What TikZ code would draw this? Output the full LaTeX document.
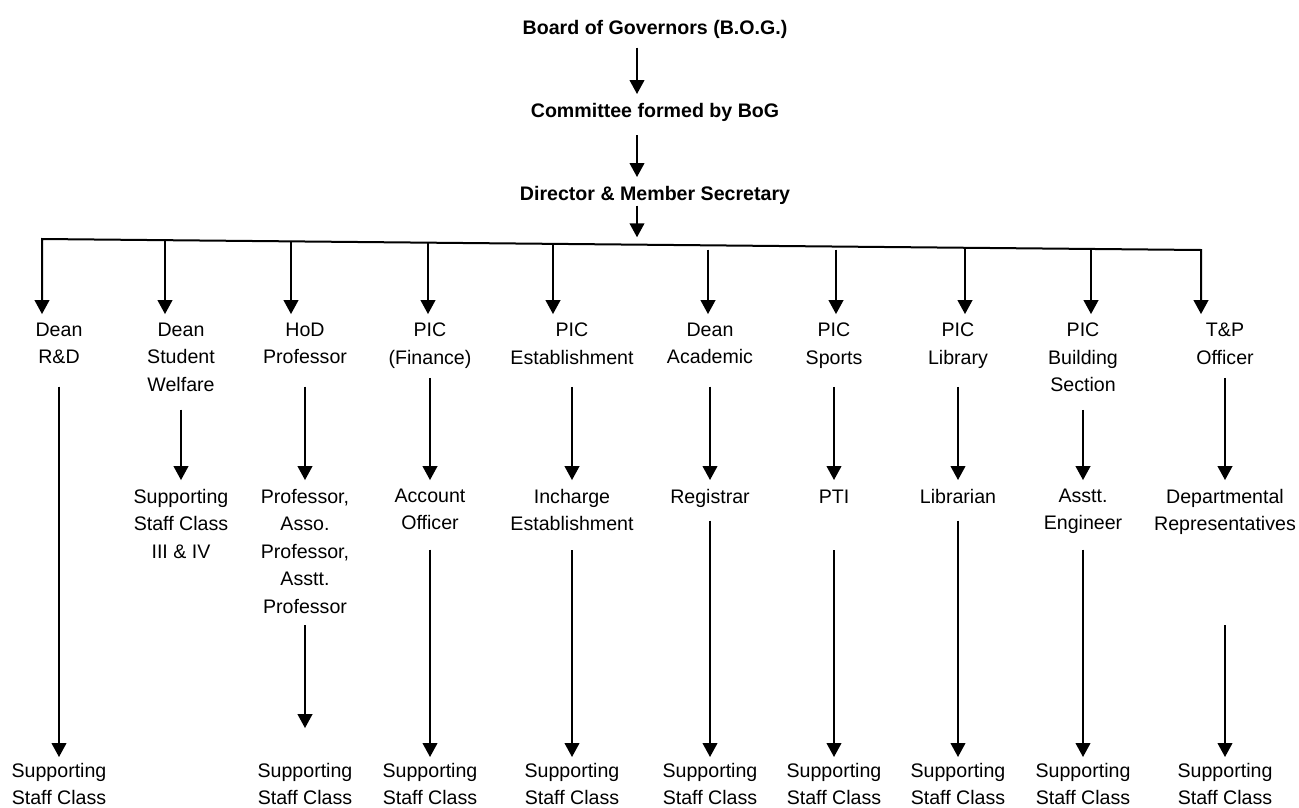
\documentclass[tikz,border=0pt]{standalone}
\usepackage{fontspec}
\setmainfont{Liberation Sans}
\usetikzlibrary{arrows.meta}

\begin{document}
\begin{tikzpicture}[x=0.75pt, y=-0.75pt,
        lbl/.style={align=center, inner sep=0pt, anchor=north,
            font=\fontsize{14.7}{20.6}\selectfont,
            execute at begin node=\strut, execute at end node=\strut},
        ttl/.style={lbl, font=\fontsize{14.7}{20.6}\selectfont\bfseries},
        arr/.style={line width=1.5pt, -{Triangle[length=10.5pt,width=11pt]}, shorten >=6.5pt},
        barr/.style={line width=1.5pt, line join=miter,
            {Triangle[length=10.5pt,width=11pt]}-{Triangle[length=10.5pt,width=11pt]},
            shorten <=6.5pt, shorten >=6.5pt}]
        \useasboundingbox (0, 0) rectangle (1299, 807);

        \begin{scope}
            % Top of the chart
            \node[ttl] (bog) at (655, 14.75) {Board of Governors (B.O.G.)};
            \node[ttl] (cmt) at (655, 97.75) {Committee formed by BoG};
            \node[ttl] (dir) at (655, 180.75) {Director \& Member Secretary};

            \coordinate (ax) at (637, 0);
            \coordinate (bm) at (637, 244.6);

            % Connect Nodes
            \draw[arr, shorten <=3.6pt, shorten >=2.8pt] (ax |- bog.south) -- (ax |- cmt.north);
            \draw[arr, shorten <=7.3pt, shorten >=2.8pt] (ax |- cmt.south) -- (ax |- dir.north);
            \draw[arr, shorten <=-2.4pt, shorten >=5.5pt] (ax |- dir.south) -- (bm);
        \end{scope}

        \begin{scope}
            % First level
            \node[lbl] (drd) at (59, 322.75) {Dean\\R\&D};
            \node[lbl] (dsw) at (181, 322.75) {Dean\\Student\\Welfare};
            \node[lbl] (hod) at (305, 322.75) {HoD\\Professor};
            \node[lbl] (pfin) at (430, 322.75) {PIC\\(Finance)};
            \node[lbl] (pest) at (572, 322.75) {PIC\\Establishment};
            \node[lbl] (dac) at (710, 322.75) {Dean\\Academic};
            \node[lbl] (pspt) at (834, 322.75) {PIC\\Sports};
            \node[lbl] (plib) at (958, 322.75) {PIC\\Library};
            \node[lbl] (pbld) at (1083, 322.75) {PIC\\Building\\Section};
            \node[lbl] (tpo) at (1225, 322.75) {T\&P\\Officer};

            % Bar under the Director
            \coordinate (b1) at (42, 239);
            \coordinate (b2) at (165, 240.2);
            \coordinate (b3) at (291, 241.4);
            \coordinate (b4) at (428, 242.7);
            \coordinate (b5) at (553, 243.9);
            \coordinate (b6) at (708, 249.5);
            \coordinate (b7) at (836, 249.5);
            \coordinate (b8) at (965, 247.8);
            \coordinate (b9) at (1091, 249);
            \coordinate (b10) at (1201, 250);

            % Connect Nodes
            \draw[barr] (b1 |- drd.north) -- (b1) -- (b10) -- (b10 |- tpo.north);
            \draw[arr] (b2) -- (b2 |- dsw.north);
            \draw[arr] (b3) -- (b3 |- hod.north);
            \draw[arr] (b4) -- (b4 |- pfin.north);
            \draw[arr] (b5) -- (b5 |- pest.north);
            \draw[arr] (b6) -- (b6 |- dac.north);
            \draw[arr] (b7) -- (b7 |- pspt.north);
            \draw[arr] (b8) -- (b8 |- plib.north);
            \draw[arr] (b9) -- (b9 |- pbld.north);
        \end{scope}

        \begin{scope}
            % Second level
            \node[lbl] (ssw) at (181, 488.75) {Supporting\\Staff Class\\III \& IV};
            \node[lbl] (prof) at (305, 488.75) {Professor,\\Asso.\\Professor,\\Asstt.\\Professor};
            \node[lbl] (acc) at (430, 488.75) {Account\\Officer};
            \node[lbl] (inc) at (572, 488.75) {Incharge\\Establishment};
            \node[lbl] (reg) at (710, 483.75) {Registrar};
            \node[lbl] (pti) at (834, 483.75) {PTI};
            \node[lbl] (lib) at (958, 483.75) {Librarian};
            \node[lbl] (aeng) at (1083, 488.75) {Asstt.\\Engineer};
            \node[lbl] (drep) at (1225, 488.75) {Departmental\\Representatives};

            % Connect Nodes
            \draw[arr, shorten <=7.3pt] (dsw.south) -- (ssw.north);
            \draw[arr, shorten <=10.7pt] (hod.south) -- (prof.north);
            \draw[arr, shorten <=3.9pt] (pfin.south) -- (acc.north);
            \draw[arr, shorten <=10.7pt] (pest.south) -- (inc.north);
            \draw[arr, shorten <=10.7pt, shorten >=2.8pt] (dac.south) -- (reg.north);
            \draw[arr, shorten <=10.7pt, shorten >=2.8pt] (pspt.south) -- (pti.north);
            \draw[arr, shorten <=10.7pt, shorten >=2.8pt] (plib.south) -- (lib.north);
            \draw[arr, shorten <=7.3pt] (pbld.south) -- (aeng.north);
            \draw[arr, shorten <=3.9pt] (tpo.south) -- (drep.north);
        \end{scope}

        \begin{scope}
            % Bottom level
            \node[lbl] (sup1) at (59, 762.75) {Supporting\\Staff Class};
            \node[lbl] (sup3) at (305, 762.75) {Supporting\\Staff Class};
            \node[lbl] (sup4) at (430, 762.75) {Supporting\\Staff Class};
            \node[lbl] (sup5) at (572, 762.75) {Supporting\\Staff Class};
            \node[lbl] (sup6) at (710, 762.75) {Supporting\\Staff Class};
            \node[lbl] (sup7) at (834, 762.75) {Supporting\\Staff Class};
            \node[lbl] (sup8) at (958, 762.75) {Supporting\\Staff Class};
            \node[lbl] (sup9) at (1083, 762.75) {Supporting\\Staff Class};
            \node[lbl] (sup10) at (1225, 762.75) {Supporting\\Staff Class};

            % Connect Nodes
            \draw[arr, shorten <=10.7pt, shorten >=4.3pt] (drd.south) -- (sup1.north);
            \draw[arr, shorten <=2.8pt, shorten >=26pt] (prof.south) -- (sup3.north);
            \draw[arr, shorten <=8.4pt, shorten >=4.3pt] (acc.south) -- (sup4.north);
            \draw[arr, shorten <=8.4pt, shorten >=4.3pt] (inc.south) -- (sup5.north);
            \draw[arr, shorten <=6.6pt, shorten >=4.3pt] (reg.south) -- (sup6.north);
            \draw[arr, shorten <=29pt, shorten >=4.3pt] (pti.south) -- (sup7.north);
            \draw[arr, shorten <=6.6pt, shorten >=4.3pt] (lib.south) -- (sup8.north);
            \draw[arr, shorten <=8.4pt, shorten >=4.3pt] (aeng.south) -- (sup9.north);
            \draw[arr, shorten <=64.7pt, shorten >=4.3pt] (drep.south) -- (sup10.north);
        \end{scope}
    \end{tikzpicture}
\end{document}
